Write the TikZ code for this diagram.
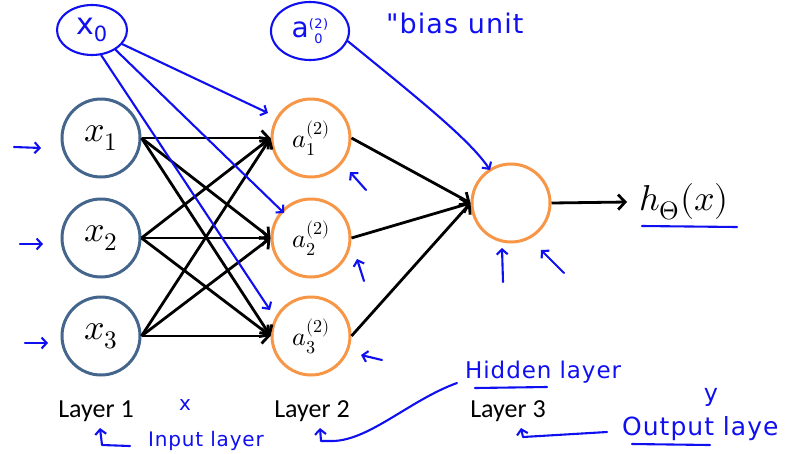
\documentclass[tikz,border=0pt]{standalone}
\usepackage{fontspec}
\usepackage{unicode-math}
\setmainfont{Latin Modern Roman}
\setmathfont{Latin Modern Math}
\newfontfamily\layerfont{Carlito}
\newfontfamily\handfont{DejaVu Sans}[LetterSpace=4]
\usetikzlibrary{arrows.meta,shapes.geometric}

\definecolor{inblue}{RGB}{68,102,140}
\definecolor{hidorange}{RGB}{247,150,70}
\definecolor{penblue}{RGB}{15,15,240}

\tikzset{
	unit/.style={circle, line width=3pt, minimum size=78pt, inner sep=0pt},
	inunit/.style={unit, draw=inblue, font=\fontsize{36}{40}\selectfont},
	hidunit/.style={unit, draw=hidorange, font=\fontsize{26}{30}\selectfont},
	conn/.style={line width=2.8pt, -{Straight Barb[length=7pt,width=15pt]}},
	ink/.style={penblue, line width=2.1pt, line cap=round, line join=round},
	inkarrow/.style={ink, -{Straight Barb[length=5pt,width=11pt]}},
	handtext/.style={text=penblue, inner sep=0pt, font=\handfont\fontsize{#1}{#1}\selectfont},
	handtext/.default=22,
	layertext/.style={font=\layerfont\fontsize{26}{30}\selectfont, inner sep=0pt},
	bubble/.style={ellipse, draw=penblue, line width=2.1pt},
}

\begin{document}
\begin{tikzpicture}[x=1pt, y=-1pt]
		%%%%% START %%%%%
		\useasboundingbox (0, 0) rectangle (802, 453);
		
		% units
		\node[inunit] (x1) at (101, 138) {$x_1$};
		\node[inunit] (x2) at (101, 238) {$x_2$};
		\node[inunit] (x3) at (101, 336) {$x_3$};
		
		\node[hidunit] (a1) at (311, 138) {$a_1^{(2)}$};
		\node[hidunit] (a2) at (311, 238) {$a_2^{(2)}$};
		\node[hidunit] (a3) at (311, 336) {$a_3^{(2)}$};
		
		\node[hidunit] (out) at (511, 203) {};
		\node[anchor=west, inner sep=12pt, font=\fontsize{36}{40}\selectfont] (h) at (627, 202) {$h_\Theta(x)$};
		
		\foreach \i in {1,2,3}
			\foreach \j in {1,2,3}
				\draw[conn] (x\i.east) -- (a\j.west);
		\foreach \j in {1,2,3}
			\draw[conn] (a\j.east) -- (out.west);
		\draw[conn] (out.east) -- (h.west);
		
		\node[layertext, anchor=base] (l1) at (96, 417) {Layer 1};
		\node[layertext, anchor=base] (l2) at (312, 417) {Layer 2};
		\node[layertext, anchor=base] (l3) at (508, 417) {Layer 3};
		
		%%%%% PEN NOTES %%%%%
		
		\node[bubble, minimum width=70pt, minimum height=50pt, handtext=30] (x0) at (92, 30) {x\textsubscript{0}};
		\node[bubble, minimum width=78pt, minimum height=58pt, handtext=28] (a0) at (310, 31)
			{a\raisebox{-6pt}{\fontsize{13}{16}\selectfont\shortstack[c]{(2)\\0}}};
		
		\coordinate (b1) at (268, 113);
		\coordinate (b2) at (284, 213);
		\coordinate (b3) at (270, 310);
		\coordinate (b4) at (490, 170);
		\draw[inkarrow] (x0.-25) -- (b1);
		\draw[inkarrow] (x0.-40) -- (b2);
		\draw[inkarrow] (x0.-70) -- (b3);
		\draw[inkarrow] (a0.-15) .. controls (420, 100) and (470, 140) .. (b4);
		
		\node[handtext=27, anchor=base west] (bias) at (386, 33) {"bias unit};
		\node[handtext=23, anchor=base west] (hid) at (465, 378) {Hidden layer};
		\node[handtext=20, anchor=base west] (inp) at (148, 446) {Input layer};
		\node[handtext=25, anchor=base west] (outp) at (622, 435) {Output laye};
		\node[handtext=24] (y) at (711, 397) {y};
		\node[handtext=20] (xmark) at (185, 405) {x};
		
		% underlines
		\draw[ink] (642, 226) -- (737, 227);
		\draw[ink] (475, 388) -- (547, 387);
		\draw[ink] (632, 444) -- (710, 445);
		
		% little arrows
		\draw[inkarrow] (14, 147) -- (41, 148);
		\draw[inkarrow] (20, 244) -- (43, 244);
		\draw[inkarrow] (25, 343) -- (48, 343);
		\draw[inkarrow] (366, 190) -- (350, 172);
		\draw[inkarrow] (364, 281) -- (357, 259);
		\draw[inkarrow] (382, 360) -- (361, 355);
		\draw[inkarrow] (503, 282) -- (502, 248);
		\draw[inkarrow] (564, 273) -- (541, 250);
		
		\draw[inkarrow] (130, 446) -- (102, 445) -- (100, 428);
		\draw[inkarrow] (457, 383) .. controls (410, 400) and (370, 440) .. (333, 441) -- (321, 441) -- (320, 428);
		\draw[inkarrow] (607, 432) -- (523, 437) -- (521, 428);
		
		%%%%% END %%%%%
\end{tikzpicture}
\end{document}
